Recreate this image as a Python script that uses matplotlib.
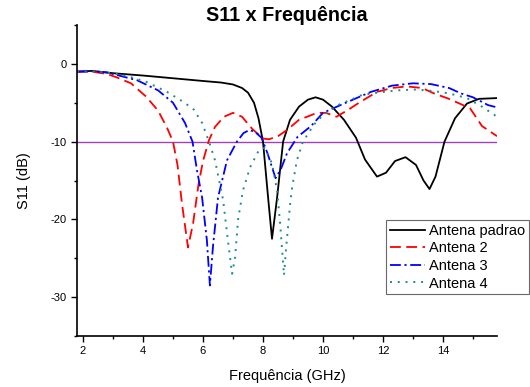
import matplotlib
matplotlib.use("Agg")
import matplotlib.pyplot as plt
from matplotlib.ticker import MultipleLocator

plt.rcParams['font.family'] = ['Liberation Sans', 'DejaVu Sans']
plt.rcParams['axes.unicode_minus'] = False

# Antena padrao
f_padrao = [1.8, 2.3, 3.0, 4.0, 5.0, 6.0, 6.6, 7.0, 7.3, 7.5, 7.7, 7.85, 8.0, 8.17, 8.3, 8.47,
            8.67, 8.9, 9.2, 9.5, 9.75, 10.0, 10.3, 10.7, 11.1, 11.4, 11.8, 12.1, 12.4, 12.75,
            13.1, 13.35, 13.55, 13.75, 14.05, 14.4, 14.8, 15.2, 15.8]
s_padrao = [-1.0, -0.9, -1.2, -1.5, -1.85, -2.2, -2.4, -2.65, -3.1, -3.7, -5.0, -7.0, -10.0,
            -17.2, -22.5, -17.2, -10.0, -7.2, -5.5, -4.6, -4.3, -4.6, -5.5, -7.2, -9.5, -12.3,
            -14.5, -14.0, -12.5, -12.0, -13.0, -15.0, -16.1, -14.5, -10.0, -7.0, -5.1, -4.5, -4.4]

# Antena 2
f_a2 = [1.8, 2.3, 2.8, 3.1, 3.6, 4.1, 4.5, 4.8, 5.0, 5.15, 5.3, 5.5, 5.67, 5.85, 6.0, 6.2,
        6.4, 6.7, 7.0, 7.3, 7.65, 8.0, 8.2, 8.5, 8.8, 9.2, 9.8, 10.1, 10.45, 10.8, 11.2, 11.8,
        12.3, 12.8, 13.3, 13.7, 14.2, 14.9, 15.3, 15.8]
s_a2 = [-1.0, -1.0, -1.3, -1.7, -2.5, -4.2, -6.0, -8.2, -10.0, -13.0, -18.0, -23.6, -20.5,
        -15.5, -12.5, -9.8, -8.1, -6.8, -6.3, -6.8, -8.4, -9.6, -9.7, -9.3, -8.5, -7.2, -6.3,
        -6.3, -6.8, -6.0, -5.0, -3.6, -3.1, -2.9, -3.1, -3.8, -4.5, -5.7, -8.0, -9.3]

# Antena 3
f_a3 = [1.8, 2.3, 2.8, 3.2, 3.8, 4.5, 5.0, 5.4, 5.65, 5.8, 5.97, 6.13, 6.23, 6.33, 6.5, 6.8,
        7.13, 7.35, 7.55, 7.75, 7.95, 8.15, 8.3, 8.42, 8.6, 8.8, 9.15, 9.6, 10.0, 10.7, 11.6,
        12.3, 13.0, 13.6, 14.2, 14.6, 15.0, 15.5, 15.8]
s_a3 = [-1.0, -0.95, -1.1, -1.5, -2.1, -3.4, -5.0, -7.6, -10.0, -13.7, -17.2, -22.7, -28.5,
        -23.6, -17.2, -12.4, -10.0, -8.9, -8.5, -8.8, -9.5, -11.5, -13.3, -14.7, -13.5, -11.5,
        -9.4, -8.0, -6.3, -5.1, -3.6, -2.8, -2.5, -2.6, -3.1, -3.8, -4.3, -5.3, -5.6]

# Antena 4
f_a4 = [1.8, 2.5, 3.0, 3.5, 4.1, 4.8, 5.35, 5.7, 5.97, 6.2, 6.4, 6.67, 6.83, 6.97, 7.07,
        7.17, 7.33, 7.57, 7.85, 8.05, 8.3, 8.47, 8.57, 8.7, 8.77, 8.9, 8.97, 9.13, 9.33, 9.5,
        9.7, 10.0, 10.5, 11.3, 11.8, 12.5, 13.1, 13.7, 14.2, 14.8, 15.3, 15.8]
s_a4 = [-1.0, -1.0, -1.2, -1.6, -2.3, -3.6, -4.9, -5.9, -7.6, -10.0, -12.4, -17.5, -22.7,
        -27.0, -24.9, -20.0, -16.3, -13.3, -11.2, -10.8, -12.8, -16.3, -20.5, -27.2, -23.7,
        -18.2, -15.9, -12.4, -10.0, -9.0, -7.8, -6.6, -5.3, -4.0, -3.7, -3.4, -3.3, -3.5,
        -3.8, -4.4, -5.5, -6.8]

limite = -10

fig = plt.figure(figsize=(5.3, 3.87), dpi=100)
ax = fig.add_axes([77 / 530, 1 - 336 / 387, 420 / 530, 311 / 387])

ax.axhline(limite, color='#a040c0', lw=1.0)
ax.plot(f_padrao, s_padrao, color='black', lw=1.3, label='Antena padrao')
ax.plot(f_a2, s_a2, color='red', lw=1.3, dashes=(6, 3), label='Antena 2')
ax.plot(f_a3, s_a3, color='blue', lw=1.3, dashes=(6, 2, 1.2, 2), label='Antena 3')
ax.plot(f_a4, s_a4, color='#1a8c8c', lw=1.4, dashes=(1, 3), label='Antena 4')

ax.set_xlim(1.8, 15.8)
ax.set_ylim(-35, 5)
ax.xaxis.set_major_locator(MultipleLocator(2))
ax.xaxis.set_minor_locator(MultipleLocator(1))
ax.yaxis.set_major_locator(MultipleLocator(10))
ax.yaxis.set_minor_locator(MultipleLocator(5))
ax.set_yticks([-30, -20, -10, 0])
ax.tick_params(which='major', direction='out', length=4, width=1, labelsize=8)
ax.tick_params(which='minor', direction='out', length=2.5, width=1)

for side in ['top', 'right']:
    ax.spines[side].set_visible(False)
for side in ['left', 'bottom']:
    ax.spines[side].set_linewidth(1.2)

ax.set_title('S11 x Frequência', fontsize=14.2, fontweight='bold', pad=-1)
ax.set_xlabel('Frequência (GHz)', fontsize=10.5, labelpad=9)
ax.set_ylabel('S11 (dB)', fontsize=10.5, labelpad=14)

leg = ax.legend(loc='upper left', bbox_to_anchor=(386 / 530, 1 - 220 / 387),
                bbox_transform=fig.transFigure, fontsize=10.5, frameon=True, fancybox=False,
                edgecolor='#444444', handlelength=2.4, handletextpad=0.3, labelspacing=0.25,
                borderpad=0.25, borderaxespad=0)
leg.get_frame().set_linewidth(0.8)

fig.savefig('out.png', dpi=100)
